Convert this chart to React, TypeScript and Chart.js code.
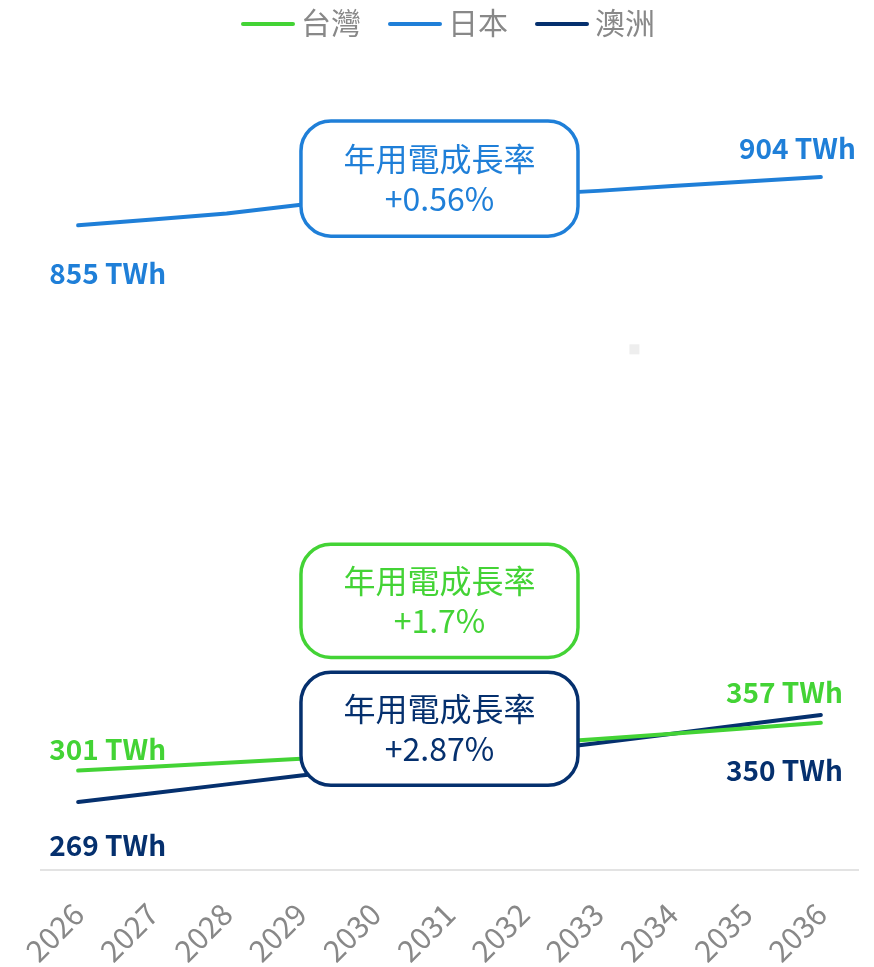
import React, { useEffect, useRef } from "react";
import { Chart, registerables } from "chart.js";

Chart.register(...registerables);

// ---- data ----
const years = ["2026", "2027", "2028", "2029", "2030", "2031", "2032", "2033", "2034", "2035", "2036"];
const seriesNames = ["台灣", "日本", "澳洲"];
const taiwan = [301, 305, 309, 313, 318, 323, 328, 333, 338.5, 344, 349.5];
const japan = [855, 861, 867, 876, 880, 883, 886, 890, 895, 899.5, 904];
const australia = [269, 278, 287, 296, 304, 312, 320, 329, 338.5, 348, 357.5];
const growthRates = ["+1.7%", "+0.56%", "+2.87%"];
const startLabels = ["301 TWh", "855 TWh", "269 TWh"];
const endLabels = ["357 TWh", "904 TWh", "350 TWh"];

// ---- style ----
const colors = ["#43d335", "#1f7fd8", "#05306e"];
const FONT = '"Noto Sans CJK TC", "Noto Sans", sans-serif';

// annotation boxes in data units (category index, value)
const boxes = [
  { series: 0, xMin: 3, xMax: 6.73, yMin: 416, yMax: 531 },
  { series: 1, xMin: 3, xMax: 6.73, yMin: 844, yMax: 961 },
  { series: 2, xMin: 3, xMax: 6.73, yMin: 286, yMax: 401 },
];
// label pixel offsets from the first/last point of each series
const startOffsets = [
  { dx: -29, dy: -21 },
  { dx: -29, dy: 48 },
  { dx: -29, dy: 43 },
];
const endOffsets = [
  { dx: 22, dy: -30 },
  { dx: 35, dy: -29 },
  { dx: 22, dy: 55 },
];

function roundRect(ctx: CanvasRenderingContext2D, x: number, y: number, w: number, h: number, r: number) {
  ctx.beginPath();
  ctx.moveTo(x + r, y);
  ctx.lineTo(x + w - r, y);
  ctx.arcTo(x + w, y, x + w, y + r, r);
  ctx.lineTo(x + w, y + h - r);
  ctx.arcTo(x + w, y + h, x + w - r, y + h, r);
  ctx.lineTo(x + r, y + h);
  ctx.arcTo(x, y + h, x, y + h - r, r);
  ctx.lineTo(x, y + r);
  ctx.arcTo(x, y, x + r, y, r);
  ctx.closePath();
}

const overlayPlugin = {
  id: "overlay",
  afterDatasetsDraw(chart: any) {
    const ctx: CanvasRenderingContext2D = chart.ctx;
    const xs = chart.scales.x;
    const ys = chart.scales.y;
    ctx.save();
    // small grey marker
    const gx = xs.getPixelForValue(7.49);
    const gy = ys.getPixelForValue(729);
    ctx.fillStyle = "#eeeeee";
    ctx.fillRect(gx - 5, gy - 5, 10, 10);

    // boxes
    boxes.forEach((b) => {
      const x1 = xs.getPixelForValue(b.xMin);
      const x2 = xs.getPixelForValue(b.xMax);
      const y1 = ys.getPixelForValue(b.yMax);
      const y2 = ys.getPixelForValue(b.yMin);
      roundRect(ctx, x1, y1, x2 - x1, y2 - y1, 30);
      ctx.fillStyle = "#ffffff";
      ctx.fill();
      ctx.lineWidth = 3.5;
      ctx.strokeStyle = colors[b.series];
      ctx.stroke();
      const cx = (x1 + x2) / 2;
      const cy = (y1 + y2) / 2;
      ctx.fillStyle = colors[b.series];
      ctx.font = `32px ${FONT}`;
      ctx.textAlign = "center";
      ctx.textBaseline = "middle";
      ctx.fillText("年用電成長率", cx, cy - 20);
      ctx.fillText(growthRates[b.series], cx, cy + 20);
    });

    // start / end labels
    ctx.font = `bold 28px ${FONT}`;
    ctx.textBaseline = "middle";
    chart.data.datasets.forEach((ds: any, i: number) => {
      const meta = chart.getDatasetMeta(i);
      const p0 = meta.data[0];
      const pn = meta.data[meta.data.length - 1];
      ctx.fillStyle = colors[i];
      ctx.textAlign = "left";
      ctx.fillText(startLabels[i], p0.x + startOffsets[i].dx, p0.y + startOffsets[i].dy);
      ctx.textAlign = "right";
      ctx.fillText(endLabels[i], pn.x + endOffsets[i].dx, pn.y + endOffsets[i].dy);
    });
    ctx.restore();
  },
  afterDraw(chart: any) {
    // legend
    const ctx: CanvasRenderingContext2D = chart.ctx;
    const ca = chart.chartArea;
    ctx.save();
    ctx.font = `30px ${FONT}`;
    const lineLen = 54;
    const gap = 6;
    const itemGap = 27;
    const widths = seriesNames.map((n) => ctx.measureText(n).width);
    const total = widths.reduce((a, w) => a + lineLen + gap + w, 0) + itemGap * (seriesNames.length - 1);
    let x = (ca.left + ca.right) / 2 - total / 2 - 1.5;
    const y = 15;
    seriesNames.forEach((n, i) => {
      ctx.strokeStyle = colors[i];
      ctx.lineWidth = 4;
      ctx.lineCap = "round";
      ctx.beginPath();
      ctx.moveTo(x + 2, y + 1);
      ctx.lineTo(x + lineLen - 2, y + 1);
      ctx.stroke();
      ctx.fillStyle = "#888888";
      ctx.textAlign = "left";
      ctx.textBaseline = "middle";
      ctx.fillText(n, x + lineLen + gap, y);
      x += lineLen + gap + widths[i] + itemGap;
    });
    ctx.restore();
  },
};

export default function App() {
  const ref = useRef<HTMLCanvasElement | null>(null);
  useEffect(() => {
    if (!ref.current) return;
    const chart = new Chart(ref.current, {
      type: "line",
      data: {
        labels: years,
        datasets: [
          { label: seriesNames[0], data: taiwan },
          { label: seriesNames[1], data: japan },
          { label: seriesNames[2], data: australia },
        ].map((d, i) => ({
          ...d,
          borderColor: colors[i],
          backgroundColor: colors[i],
          borderWidth: 4,
          borderCapStyle: "round" as const,
          borderJoinStyle: "round" as const,
          pointRadius: 0,
          tension: 0,
          fill: false,
        })),
      },
      options: {
        animation: false,
        responsive: true,
        maintainAspectRatio: false,
        layout: { padding: { top: 50, left: 33, right: 8, bottom: 0 } },
        plugins: {
          legend: { display: false },
          tooltip: { enabled: false },
        },
        scales: {
          x: {
            offset: true,
            grid: { display: false },
            border: { display: true, color: "#e3e3e3", width: 2 },
            ticks: {
              color: "#888888",
              font: { family: FONT, size: 30 },
              minRotation: 45,
              maxRotation: 45,
              padding: 18,
              autoSkip: false,
            },
            afterFit(scale: any) {
              scale.height = 97;
              scale.paddingLeft = 0;
              scale.paddingRight = 0;
            },
          },
          y: {
            display: false,
            min: 200,
            max: 1025,
          },
        },
      },
      plugins: [overlayPlugin],
    });
    return () => chart.destroy();
  }, []);
  return (
    <div style={{ width: "100%", height: 959, position: "relative" }}>
      <canvas ref={ref} />
    </div>
  );
}
